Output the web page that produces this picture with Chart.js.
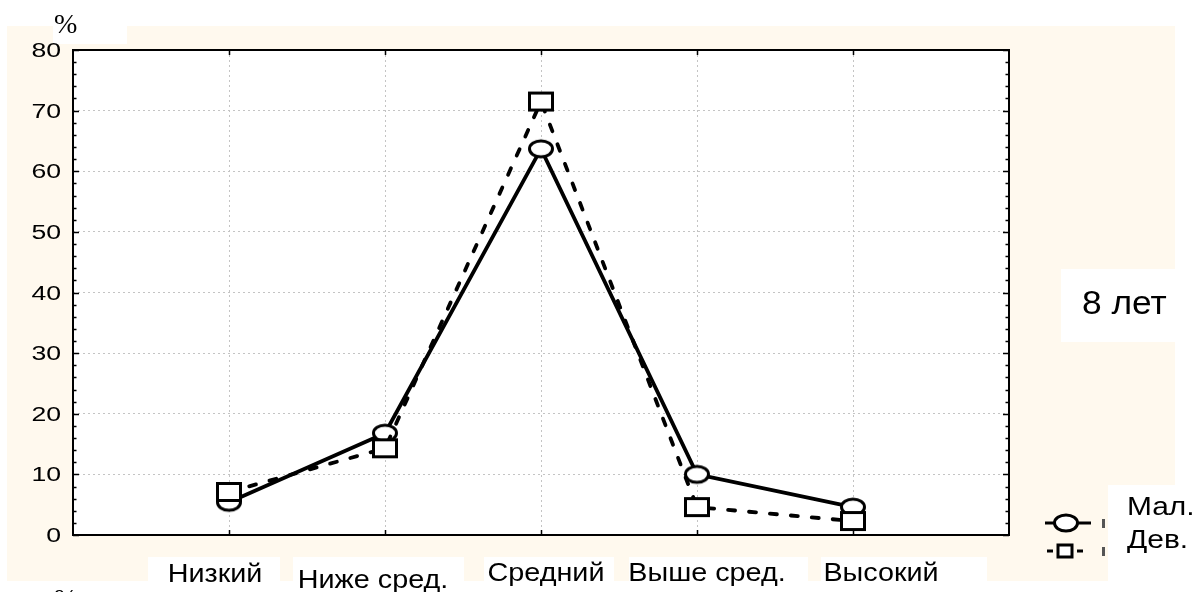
<!DOCTYPE html>
<html>
<head>
<meta charset="utf-8">
<script src="https://cdn.jsdelivr.net/npm/chart.js@4.4.1/dist/chart.umd.min.js"></script>
<style>
  html, body { margin: 0; padding: 0; background: #fff; }
  canvas { display: block; }
</style>
</head>
<body>
<canvas id="chart" width="1197" height="592"></canvas>
<script>
// данные
const categories = ['Низкий', 'Ниже сред.', 'Средний', 'Выше сред.', 'Высокий'];
const boysValues = [5.4, 16.8, 63.7, 10.0, 4.6];
const girlsValues = [7.1, 14.3, 71.5, 4.6, 2.3];
const seriesNames = ['Мал.', 'Дев.'];
const yMin = 0, yMax = 80, yStep = 10;
const panelTitle = '8 лет';
const unitLabel = '%';

const CREAM = '#fff9ee';

// маркеры
function makeMarker(kind) {
  const c = document.createElement('canvas');
  c.width = 28; c.height = 22;
  const g = c.getContext('2d');
  g.fillStyle = '#fff';
  g.strokeStyle = '#000';
  g.lineWidth = 3;
  if (kind === 'ellipse') {
    g.beginPath();
    g.ellipse(14, 11, 11.5, 8, 0, 0, Math.PI * 2);
    g.fill(); g.stroke();
  } else {
    g.fillRect(2.5, 2.5, 23, 17);
    g.strokeRect(2.5, 2.5, 23, 17);
  }
  return c;
}
const ellipseMarker = makeMarker('ellipse');
const squareMarker = makeMarker('rect');

function stretchedText(ctx, text, x, y, font, sx, align) {
  ctx.save();
  ctx.font = font;
  ctx.textAlign = align || 'left';
  ctx.textBaseline = 'alphabetic';
  ctx.fillStyle = '#000';
  ctx.translate(x, y);
  ctx.scale(sx, 1);
  ctx.fillText(text, 0, 0);
  ctx.restore();
}

// фон, рамка, подписи
const decor = {
  id: 'decor',
  beforeDraw(chart) {
    const ctx = chart.ctx;
    const xs = chart.scales.x;
    const a = chart.chartArea;
    ctx.save();
    ctx.fillStyle = '#fff';
    ctx.fillRect(0, 0, chart.width, chart.height);
    ctx.fillStyle = CREAM;
    ctx.fillRect(7, 26, 1168, 555);
    ctx.fillStyle = '#fff';
    ctx.fillRect(53, 0, 74, 44);           // "%"
    ctx.fillRect(1061, 269, 136, 73);      // "8 лет"
    ctx.fillRect(1108, 485, 89, 107);      // легенда
    const boxes = [[-81, 51], [-92, 79], [-57, 73], [-68, 111], [-32, 134]];
    categories.forEach((c, i) => {
      const px = xs.getPixelForValue(i + 1);
      ctx.fillRect(px + boxes[i][0], 557, boxes[i][1] - boxes[i][0], 40);
    });
    ctx.fillRect(a.left, a.top, a.right - a.left, a.bottom - a.top);
    ctx.restore();
  },
  beforeDatasetsDraw(chart) {
    const ctx = chart.ctx;
    const a = chart.chartArea;
    const xs = chart.scales.x, ys = chart.scales.y;
    ctx.save();
    ctx.strokeStyle = '#000';
    ctx.lineWidth = 1.5;
    ctx.beginPath();
    for (let v = yMin; v <= yMax; v += 2) {
      const py = Math.round(ys.getPixelForValue(v)) + 0.5;
      const len = v % yStep === 0 ? 6 : 3.5;
      ctx.moveTo(a.left, py); ctx.lineTo(a.left + len, py);
      ctx.moveTo(a.right, py); ctx.lineTo(a.right - len, py);
    }
    categories.forEach((c, i) => {
      const px = Math.round(xs.getPixelForValue(i + 1)) + 0.5;
      ctx.moveTo(px, a.top); ctx.lineTo(px, a.top + 5);
      ctx.moveTo(px, a.bottom); ctx.lineTo(px, a.bottom - 5);
    });
    ctx.stroke();
    ctx.lineWidth = 2;
    ctx.strokeRect(a.left, a.top, a.right - a.left, a.bottom - a.top);
    ctx.restore();
  },
  afterDraw(chart) {
    const ctx = chart.ctx;
    const xs = chart.scales.x, ys = chart.scales.y;
    // y подписи
    ys.ticks.forEach(t => {
      const py = ys.getPixelForValue(t.value);
      stretchedText(ctx, String(t.value), 61, py + 7, '20px "Liberation Sans", Arial, sans-serif', 1.33, 'right');
    });
    // "%"
    ctx.save();
    ctx.font = '28px "Liberation Serif", "Times New Roman", serif';
    ctx.fillStyle = '#000';
    ctx.textBaseline = 'alphabetic';
    ctx.fillText(unitLabel, 54, 33);
    ctx.fillText(unitLabel, 54, 608);
    ctx.restore();
    // категории
    const offs = [-14, -12, 5, 10, 28];
    const bases = [582, 588, 581, 581, 581];
    categories.forEach((c, i) => {
      const px = xs.getPixelForValue(i + 1);
      stretchedText(ctx, c, px + offs[i], bases[i], '25px "Liberation Sans", Arial, sans-serif', 1.15, 'center');
    });
    // "8 лет"
    stretchedText(ctx, panelTitle, 1082, 314, '33px "Liberation Sans", Arial, sans-serif', 1.07, 'left');
    // легенда
    ctx.save();
    ctx.strokeStyle = '#000';
    ctx.lineWidth = 3;
    ctx.beginPath();
    ctx.moveTo(1045, 523); ctx.lineTo(1091, 523);
    ctx.stroke();
    ctx.drawImage(ellipseMarker, 1066 - 14, 523 - 11);
    ctx.beginPath();
    ctx.moveTo(1047, 551); ctx.lineTo(1053, 551);
    ctx.moveTo(1077, 551); ctx.lineTo(1083, 551);
    ctx.stroke();
    ctx.fillStyle = '#fff';
    ctx.fillRect(1058, 545, 14, 12);
    ctx.strokeRect(1058, 545, 14, 12);
    ctx.fillStyle = '#555';
    ctx.fillRect(1102, 519, 3, 9);
    ctx.fillRect(1102, 547, 3, 9);
    ctx.restore();
    stretchedText(ctx, seriesNames[0], 1127, 515, '26px "Liberation Sans", Arial, sans-serif', 1.15, 'left');
    stretchedText(ctx, seriesNames[1], 1127, 548, '26px "Liberation Sans", Arial, sans-serif', 1.15, 'left');
  }
};

const grid = { color: '#c4c4c4', lineWidth: 1, drawTicks: false };

new Chart(document.getElementById('chart'), {
  type: 'line',
  data: {
    datasets: [
      {
        label: seriesNames[0],
        data: boysValues.map((v, i) => ({ x: i + 1, y: v })),
        borderColor: '#000',
        borderWidth: 3.8,
        pointStyle: ellipseMarker,
        pointRadius: 12,
        tension: 0,
        order: 2
      },
      {
        label: seriesNames[1],
        data: girlsValues.map((v, i) => ({ x: i + 1, y: v })),
        borderColor: '#000',
        borderWidth: 3.8,
        borderDash: [7, 14],
        borderCapStyle: 'round',
        pointStyle: squareMarker,
        pointRadius: 12,
        tension: 0,
        order: 1
      }
    ]
  },
  options: {
    responsive: false,
    animation: false,
    devicePixelRatio: 1,
    layout: { padding: { left: 73, top: 50, right: 188, bottom: 57 } },
    plugins: { legend: { display: false }, tooltip: { enabled: false } },
    scales: {
      x: {
        type: 'linear', min: 0, max: categories.length + 1,
        ticks: { display: false, stepSize: 1 },
        grid: grid,
        border: { display: false, dash: [2, 3] }
      },
      y: {
        min: yMin, max: yMax,
        ticks: { display: false, stepSize: yStep },
        grid: grid,
        border: { display: false, dash: [2, 3] }
      }
    }
  },
  plugins: [decor]
});
</script>
</body>
</html>
